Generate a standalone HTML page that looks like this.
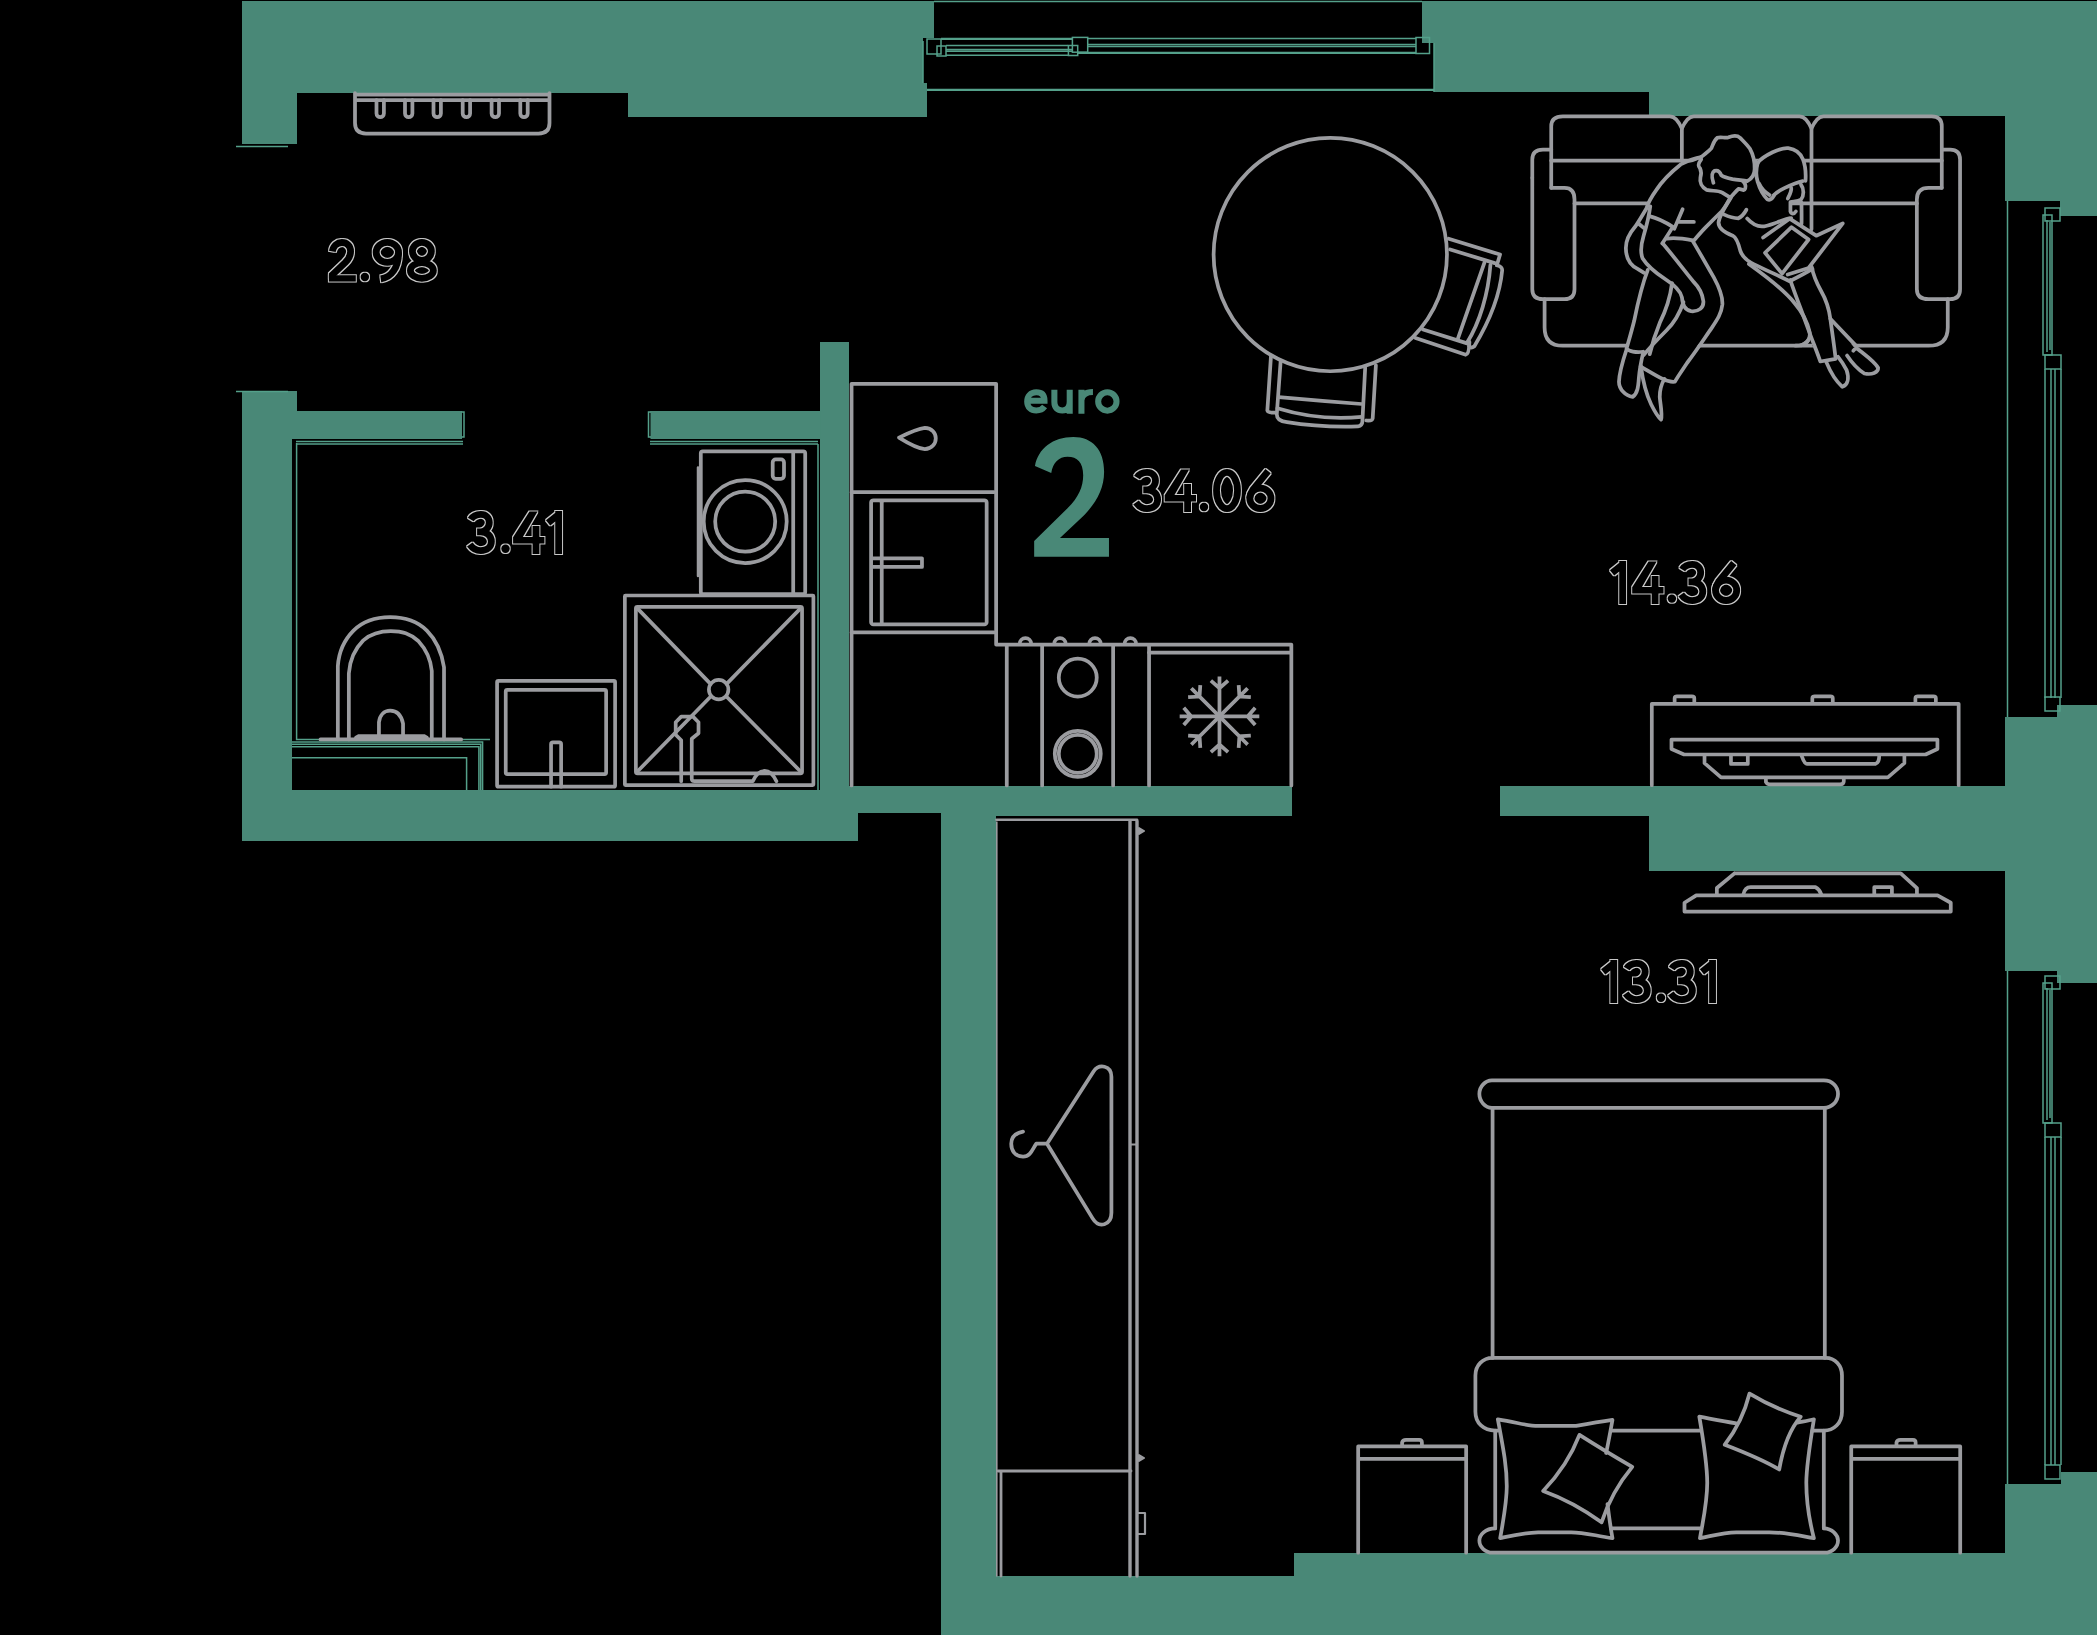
<!DOCTYPE html>
<html><head><meta charset="utf-8">
<style>
html,body{margin:0;padding:0;background:#000;width:2097px;height:1635px;overflow:hidden}
svg{display:block}
.w{fill:#498877}
.g{fill:none;stroke:#9b9ca0;stroke-width:3.75;stroke-linejoin:round;stroke-linecap:round}
.wl{fill:none;stroke:#54a08a;stroke-width:1.5}
.num{font-family:"Liberation Sans",sans-serif;font-size:60px;fill:#000;stroke:#c8c8c8;stroke-width:1.1}
.teal{font-family:"Liberation Sans",sans-serif;font-weight:bold;fill:#4a8978}
</style></head>
<body>
<svg width="2097" height="1635" viewBox="0 0 2097 1635">
<defs>
<filter id="ol" x="-10%" y="-20%" width="120%" height="140%">
<feMorphology in="SourceAlpha" operator="dilate" radius="1" result="d"/>
<feComposite in="d" in2="SourceAlpha" operator="out" result="o"/>
<feFlood flood-color="#c8c8c8"/>
<feComposite in2="o" operator="in"/>
</filter>
</defs>
<rect x="0" y="0" width="2097" height="1635" fill="#000"/>
<!-- WALLS -->
<g class="w">
<path d="M242 1H934V38H923V83H927V117H628V93H297V144H242Z"/>
<path d="M1422 1H2097V216H2060V201H2005V116H1649V92H1434V43H1422Z"/>
<path d="M242 391H297V411H462V439H292V790H820V342H849V786H1292V816H996V1576H1294V1553H2005V1484H2061V1472H2097V1635H941V813H858V841H242Z"/>
<rect x="650.5" y="411" width="170" height="28"/>
<path d="M1500 786H2005V717H2057V705H2097V983H2057V971H2005V871H1649V816H1500Z"/>
</g>
<!-- FURNITURE (placeholder) -->
<g id="furn">
<!-- top window -->
<g class="wl">
<path d="M934 1.5H1422"/>
<path d="M927 89.8H1434" stroke-width="2.2"/>
<path d="M941 38.8H1072" stroke-width="2.2"/>
<path d="M946 45.5H1068M946 49.4H1072M946 51.2H1072M946 55.3H1068"/>
<path d="M1088 38.4H1416M1088 44.4H1416M1088 46.5H1416"/>
<path d="M1077 52.9H1416" stroke-width="2.2"/>
<rect x="1072.4" y="37.4" width="15.3" height="14.8"/>
<rect x="1068.4" y="45.5" width="9.3" height="10"/>
<rect x="927" y="39" width="14" height="15"/>
<rect x="937" y="46" width="9" height="10"/>
<rect x="1416" y="37.5" width="13.5" height="16"/>
<path d="M923 41V83M1434 43V92"/>
</g>
<!-- right windows -->
<g class="wl">
<path d="M2007.5 201V717"/>
<rect x="2045" y="208" width="15" height="13"/>
<rect x="2043" y="215" width="9" height="140"/>
<path d="M2047 220V352M2050 222V350"/>
<rect x="2045" y="355" width="16" height="14"/>
<path d="M2045 369V698M2061 369V698M2051 369V698M2055 369V698"/>
<rect x="2045" y="697" width="15" height="14"/>
<path d="M2007.5 971V1484"/>
<rect x="2045" y="976" width="15" height="13"/>
<rect x="2043" y="983" width="9" height="140"/>
<path d="M2047 988V1120M2050 990V1118"/>
<rect x="2045" y="1123" width="16" height="14"/>
<path d="M2045 1137V1465M2061 1137V1465M2051 1137V1465M2055 1137V1465"/>
<rect x="2045" y="1465" width="15" height="14"/>
</g>
<!-- radiator -->
<g class="g">
<path d="M355 93V123Q355 133.5 366 133.5H538.5Q549.5 133.5 549.5 123V93"/>
<path d="M356 100H548.5M357 94.5H548"/>
<path d="M376.5 100V113.5A3.7 3.7 0 0 0 383.9 113.5V100M405 100V113.5A3.7 3.7 0 0 0 412.4 113.5V100M433.5 100V113.5A3.7 3.7 0 0 0 440.9 113.5V100M462.7 100V113.5A3.7 3.7 0 0 0 470.1 113.5V100M491.6 100V113.5A3.7 3.7 0 0 0 499 113.5V100M520.3 100V113.5A3.7 3.7 0 0 0 527.7 113.5V100"/>
</g>
<!-- hall door thin lines -->
<g class="wl">
<path d="M236 146.5H288M236 391.5H288"/>
<path d="M296.6 443V739.4H490"/>
<path d="M292 741.9H482.6V790M292 744.3H480.7V790M292 746.8H478.9V790M292 757.8H466.6V790"/>
<path d="M461.5 412H464V437H461.5M651 412H648.5V437H651"/>
<path d="M296 441.5H463M296 444H463M650 441.5H818M650 444H818M818 444V790"/>
</g>
<!-- toilet -->
<g class="g" transform="translate(285,600) scale(0.12232)" style="stroke-width:30.60">
<path d="M432 1140V540C440 420 490 320 560 250C640 170 740 140 860 140C980 140 1080 170 1160 250C1230 320 1280 420 1300 550V1140"/>
<path d="M522 1140V600C530 480 580 390 640 330C710 270 780 255 865 255C960 255 1020 275 1090 335C1150 400 1190 470 1200 580V1140"/>
<path d="M290 1140H1440"/>
<path d="M580 1125L605 1112H1135L1160 1125Z" style="fill:#9c9c9f"/>
<path d="M768 1110V1000C775 940 810 905 860 905C915 905 950 940 965 1010V1110"/>
</g>
<!-- sink + shower -->
<g class="g" transform="translate(490,590) scale(0.157369)" style="stroke-width:23.54">
<rect x="45" y="578" width="750" height="672" rx="8"/>
<rect x="100" y="635" width="638" height="535" rx="10"/>
<path d="M388 1250V980Q388 968 400 968H440Q452 968 452 980V1250"/>
<rect x="857" y="35" width="1198" height="1205" rx="4"/>
<rect x="927" y="107" width="1056" height="1058" rx="10"/>
<path d="M935 115L1395 590M1510 685L1975 1155M1975 115L1510 590M1395 685L935 1155"/>
<circle cx="1453" cy="633" r="62"/>
<path d="M1215 1215V955L1180 920V840L1215 805H1290L1325 840V910L1282 945V1200Q1282 1215 1300 1215H1670Q1700 1150 1745 1150Q1790 1150 1820 1215"/>
</g>
<!-- washing machine -->
<g class="g">
<rect x="700.8" y="451.3" width="104.4" height="142.7" rx="2"/>
<path d="M793.2 452V593"/>
<rect x="772.7" y="459.4" width="11.3" height="19.4" rx="3"/>
<path d="M698 467.5V576" style="stroke-width:2.5"/>
<circle cx="745.2" cy="521.6" r="41.5"/>
<circle cx="745.2" cy="521.6" r="30"/>
</g>
<!-- kitchen -->
<g class="g" transform="translate(830,360) scale(0.287439)" style="stroke-width:13.05">
<path d="M75 1480V83H578V990H1605V1480"/>
<path d="M75 460H570M75 948H570"/>
<rect x="143" y="488" width="402" height="432" rx="8"/>
<path d="M180 495V915"/>
<path d="M150 690H320V720H150" />
<path d="M240 270C280 250 310 238 330 236C355 236 368 255 368 272C368 290 355 310 330 310C305 308 280 295 240 270Z"/>
<path d="M615 995V1480M738 995V1480M985 995V1480M1110 995V1480"/>
<path d="M1110 1018H1600"/>
<path d="M660 988A20 20 0 0 1 700 988M780 988A20 20 0 0 1 820 988M902 988A20 20 0 0 1 942 988M1025 988A20 20 0 0 1 1065 988"/>
<circle cx="862" cy="1105" r="66"/>
<circle cx="862" cy="1370" r="80"/>
<circle cx="862" cy="1370" r="66"/>
<g transform="translate(1355,1240)">
<path d="M0 0V-132M-25 -120L0 -98L25 -120" style="stroke-linecap:square;stroke-linejoin:miter"/>
<g transform="rotate(45)"><path d="M0 0V-132M-25 -120L0 -98L25 -120" style="stroke-linecap:square;stroke-linejoin:miter"/></g>
<g transform="rotate(90)"><path d="M0 0V-132M-25 -120L0 -98L25 -120" style="stroke-linecap:square;stroke-linejoin:miter"/></g>
<g transform="rotate(135)"><path d="M0 0V-132M-25 -120L0 -98L25 -120" style="stroke-linecap:square;stroke-linejoin:miter"/></g>
<g transform="rotate(180)"><path d="M0 0V-132M-25 -120L0 -98L25 -120" style="stroke-linecap:square;stroke-linejoin:miter"/></g>
<g transform="rotate(225)"><path d="M0 0V-132M-25 -120L0 -98L25 -120" style="stroke-linecap:square;stroke-linejoin:miter"/></g>
<g transform="rotate(270)"><path d="M0 0V-132M-25 -120L0 -98L25 -120" style="stroke-linecap:square;stroke-linejoin:miter"/></g>
<g transform="rotate(315)"><path d="M0 0V-132M-25 -120L0 -98L25 -120" style="stroke-linecap:square;stroke-linejoin:miter"/></g>
</g>
</g>
<!-- table + chairs -->
<g class="g" transform="translate(1180,100) scale(0.214087)" style="stroke-width:17.44">
<circle cx="702" cy="722" r="545"/>
<path d="M425 1195L408 1450Q410 1462 445 1460"/>
<path d="M470 1222L452 1468Q452 1500 500 1505Q650 1530 830 1525Q852 1520 852 1500L865 1250"/>
<path d="M915 1240L900 1488Q898 1500 870 1497"/>
<path d="M462 1388Q650 1405 848 1420"/>
<path d="M455 1440Q650 1500 850 1480"/>
<path d="M1255 648L1495 722L1480 772"/>
<path d="M1262 698L1470 762"/>
<path d="M1480 772Q1505 778 1505 795Q1490 960 1375 1150Q1360 1162 1350 1150"/>
<path d="M1450 770C1440 905 1400 1040 1340 1135"/>
<path d="M1422 760L1298 1115"/>
<path d="M1100 1112L1335 1190Q1350 1188 1352 1130"/>
<path d="M1135 1072L1345 1138"/>
</g>
<!-- sofa -->
<g class="g" transform="translate(1400,0) scale(0.332381)" style="stroke-width:11.24">
<path d="M455 450H430Q398 450 398 480V535"/>
<path d="M455 450V380Q455 350 490 350H812Q832 350 848 387Q864 350 884 350H1202Q1222 350 1238 387Q1254 350 1274 350H1600Q1630 350 1630 380V565"/>
<path d="M455 450V565"/>
<path d="M455 483H1630"/>
<path d="M848 387V483M1238 387V690"/>
<path d="M398 535V870Q398 900 430 900H495Q525 900 525 870V600Q525 565 495 565H455"/>
<path d="M1630 450H1655Q1685 450 1685 480V870Q1685 900 1655 900H1590Q1555 900 1555 870V600Q1555 565 1590 565H1630"/>
<path d="M525 612H1555"/>
<path d="M435 900V985Q435 1040 490 1040H1590Q1648 1040 1648 985V900"/>
<path d="M1238 870V985Q1238 1040 1190 1040"/>
</g>
<!-- people -->
<g transform="translate(1600,120) scale(0.189645)" fill="#000" stroke="none">
<path d="M530 205L600 140L630 92L740 88L800 170L822 300L740 390L700 420L640 510L490 640L560 770L645 950L630 1030L520 1180L400 1380L335 1372L318 1470L322 1580L300 1585L230 1420L172 1460L100 1400L140 1210L250 790L140 720L140 620L250 440L380 265Z"/>
<path d="M830 212L960 150L1075 210L1088 330L1050 420L1000 445L1000 510L1140 610L1280 545L1110 780L1210 1040L1340 1200L1470 1310L1462 1335L1380 1300L1300 1255L1310 1390L1275 1410L1190 1280L1160 1282L1040 1000L800 760L735 690L720 620L625 560L690 410L820 330Z"/>
</g>
<g class="g" transform="translate(1600,120) scale(0.189645)" style="stroke-width:19.80">
<path d="M252 790C225 860 200 960 180 1060C165 1120 150 1170 140 1205C150 1220 190 1228 228 1222"/>
<path d="M140 1210C120 1270 102 1330 100 1380C100 1420 135 1455 172 1460C200 1440 202 1400 205 1360C208 1320 215 1280 228 1225"/>
<path d="M380 860C370 940 345 1010 315 1070C290 1130 275 1180 262 1235"/>
<path d="M215 1295C225 1370 240 1440 270 1500C290 1540 310 1570 322 1580C330 1550 318 1500 315 1460C315 1420 325 1390 340 1365"/>
<path d="M490 640C520 690 560 760 600 830C630 885 648 940 645 975C640 1020 620 1050 590 1095C555 1145 510 1215 460 1280C430 1325 405 1360 395 1380C380 1382 350 1375 330 1365C290 1345 250 1320 215 1300"/>
<path d="M265 455C258 510 245 560 230 610C215 660 212 700 225 730C250 770 300 810 345 840C400 875 425 905 432 935C436 975 445 1000 480 1008C520 1012 548 990 545 955C540 915 520 880 495 855C460 815 410 745 330 650"/>
<path d="M440 960C420 1020 390 1070 350 1110C310 1150 270 1190 230 1240"/>
<path d="M690 410C660 460 630 500 625 540C625 570 650 590 700 610C720 620 730 650 740 690C750 720 770 740 810 760C870 790 940 820 1000 850C1040 830 1080 810 1120 785"/>
<path d="M860 620L1000 520L1140 610L1280 545L1100 780L990 815"/>
<path d="M870 700L1010 565L1100 630L960 810Z"/>
</g>
<g class="g" transform="translate(1610,260) scale(0.133529)" style="stroke-width:28"><path d="M1040 30C1180 130 1300 220 1380 320C1440 390 1480 470 1495 540C1502 585 1480 625 1430 640"/>
<path d="M1350 150C1395 280 1450 420 1500 560C1530 640 1555 700 1575 760L1690 740C1680 650 1665 550 1650 440C1640 360 1620 300 1580 230C1540 160 1520 100 1510 50"/>
<path d="M1650 440L1845 645"/>
<path d="M1620 765C1655 850 1695 910 1740 950C1782 935 1792 885 1772 825C1752 785 1730 752 1708 725"/>
<path d="M1775 715C1805 760 1850 815 1905 850C1962 862 2010 842 2008 808C1990 770 1925 722 1862 672C1845 658 1832 665 1822 680"/>
</g>
<g class="g" transform="translate(1620,130) scale(0.097847)" style="stroke-width:38.3">
<path d="M828 278C865 245 905 222 935 185C950 150 958 110 995 80C1035 62 1070 90 1110 75C1150 58 1200 55 1228 80C1262 115 1300 150 1330 195C1360 250 1378 330 1376 400C1375 460 1345 500 1300 522C1255 515 1200 510 1150 502C1100 492 1060 482 1035 462C1020 425 995 408 965 418C935 435 935 480 955 540"/>
<path d="M830 300C800 340 792 365 818 392C832 425 830 460 822 485C812 535 835 585 885 612C945 628 995 612 1045 640C1080 662 1110 680 1128 690C1160 660 1188 618 1212 602C1240 600 1268 635 1280 598C1290 570 1275 535 1255 522"/>
<path d="M1128 690C1100 740 1075 790 1040 830C990 880 930 940 880 990C830 1040 790 1090 755 1130"/>
<path d="M828 278C760 288 700 312 620 352C520 432 430 522 372 612C322 682 285 752 270 802C222 882 182 952 152 992C85 1070 60 1150 60 1205C60 1300 100 1380 180 1420L242 1458"/>
<path d="M192 958L242 1000"/>
<path d="M300 880C380 900 470 945 540 990C510 1040 470 1100 432 1160"/>
<path d="M480 1110C560 1098 650 1110 745 1128"/>
<path d="M640 810C610 880 580 950 555 1010M605 940H755"/>
</g>
<g class="g" transform="translate(1710,130) scale(0.097847)" style="stroke-width:38.3">
<path d="M488 335C520 292 570 262 640 228C710 196 760 180 800 185C870 195 925 235 950 300C970 350 982 430 976 520"/>
<path d="M948 522C900 532 835 558 765 592C722 612 682 640 652 665"/>
<path d="M488 335C470 400 468 470 488 532C508 600 538 660 585 708C615 722 638 700 655 668"/>
<path d="M500 545C525 600 565 640 610 665"/>
<path d="M830 592C835 625 815 660 795 700"/>
<path d="M930 560C962 600 962 672 930 712C902 730 862 730 822 738V832C832 862 860 862 878 832"/>
<path d="M935 742C935 820 938 900 935 960"/>
<path d="M140 862C182 882 240 902 290 902C332 882 352 852 372 815"/>
<path d="M380 905C420 950 470 985 530 985C590 985 630 962 690 942C740 922 790 902 830 900"/>
</g>
<!-- TV living -->
<g class="g" transform="translate(1640,690) scale(0.157369)" style="stroke-width:23.54">
<path d="M75 605V88H2025V605"/>
<path d="M220 80V52Q220 40 235 40H330Q345 40 345 52V80M1095 80V52Q1095 40 1110 40H1210Q1225 40 1225 52V80M1750 80V52Q1750 40 1765 40H1865Q1880 40 1880 52V80"/>
<path d="M200 315H1890V375L1815 410H280L200 375Z"/>
<path d="M410 420V465L515 555H1575L1680 465V420"/>
<path d="M578 420V470H685V420"/>
<path d="M1028 420Q1045 470 1062 470H1495Q1520 462 1520 420"/>
<path d="M800 560V585Q810 600 825 600H1270Q1295 600 1295 580V560"/>
</g>
<!-- TV bedroom -->
<g class="g" transform="translate(1480,660) scale(0.294229)" style="stroke-width:12.73">
<path d="M865 725L805 775V797M865 725H1430L1485 775V797"/>
<path d="M895 797Q900 772 920 772H1140Q1155 780 1160 797"/>
<path d="M1340 797V772H1400V797"/>
<path d="M695 825L735 800H1555L1600 825V855H695Z"/>
</g>
<!-- wardrobe -->
<g class="g">
<path d="M996.5 819.8H1137" style="stroke-width:2.6"/>
<path d="M996.8 822V1576" style="stroke-width:1.6"/>
<path d="M1130 821V1576M1137 821V1576" style="stroke-width:3.4"/>
<path d="M998 1471H1131M1001 1471V1576" style="stroke-width:2.8"/>
<path d="M1130 1144.5H1137" style="stroke-width:2"/>
<path d="M1139 828L1144 831L1139 834ZM1139 1455L1144 1458L1139 1461Z" style="stroke-width:2;fill:#9b9ca0"/>
<path d="M1138 1513H1145V1534H1138" style="stroke-width:2.2"/>
</g>
<g class="g" transform="translate(920,1050) scale(0.357782)" style="stroke-width:10.49">
<path d="M355 262L485 60C500 38 535 42 535 75V455C535 490 500 500 482 470L355 262H325C315 275 310 298 288 298C265 298 255 280 255 262C255 242 268 232 288 228"/>
</g>
<!-- bedroom -->
<g class="g" transform="translate(1340,1060) scale(0.330251)" style="stroke-width:11.34">
<path d="M460 62H1465C1490 62 1508 80 1508 103C1508 125 1490 145 1465 145H460C440 145 422 125 422 103C422 80 440 62 460 62Z"/>
<path d="M462 145V902M1468 145V902"/>
<path d="M460 902H1470C1500 902 1520 925 1520 955V1065C1520 1100 1495 1122 1465 1122H1430M462 902C432 902 410 925 410 955V1065C410 1100 435 1122 470 1122H478"/>
<path d="M470 1122V1418M1465 1122V1418M820 1122H1090M820 1418H1090"/>
<path d="M470 1418C440 1418 422 1438 422 1455C422 1475 440 1492 462 1492H1468C1490 1492 1508 1475 1508 1455C1508 1438 1490 1418 1465 1418"/>
<path d="M478 1088C540 1098 565 1108 600 1108H715C760 1100 790 1095 825 1090C818 1130 812 1160 806 1190M810 1345C815 1385 820 1420 825 1448C770 1440 740 1430 700 1430H600C550 1432 520 1440 485 1448C495 1390 505 1340 505 1290C505 1230 495 1180 478 1088"/>
<path d="M725 1135C780 1170 830 1200 885 1232C845 1280 815 1330 792 1400C740 1362 690 1332 615 1305C660 1258 700 1200 725 1135Z"/>
<path d="M1200 1100C1160 1095 1130 1088 1088 1080C1105 1180 1112 1230 1112 1280C1112 1340 1100 1390 1090 1448C1130 1440 1160 1430 1200 1430H1300C1350 1430 1390 1440 1435 1448C1420 1390 1412 1340 1412 1280C1412 1230 1420 1180 1435 1088C1420 1092 1400 1095 1385 1098"/>
<path d="M1240 1010C1290 1040 1330 1060 1395 1080C1360 1120 1342 1170 1330 1240C1280 1210 1230 1190 1165 1165C1200 1120 1225 1070 1240 1010Z"/>
<path d="M55 1492V1170H382V1492M60 1208H378"/>
<path d="M188 1168V1158Q190 1150 200 1150H240Q248 1150 248 1158V1168"/>
<path d="M1548 1492V1170H1878V1492M1553 1208H1873"/>
<path d="M1685 1168V1158Q1687 1150 1697 1150H1735Q1743 1150 1743 1158V1168"/>
</g>
<!-- labels -->
<g transform="translate(1010,380) scale(0.116171)">
<path fill="#498877" d="M215 740C240 590 370 490 545 490C710 490 810 600 810 790C810 960 720 1090 590 1210L430 1360H852V1522H208V1385L495 1105C590 1010 630 920 630 820C630 710 580 660 495 660C420 660 370 710 355 800Z"/>
<g fill="none" stroke="#498877" stroke-width="52">
<path d="M160 178H297C297 125 268 106 226 106C176 106 148 142 148 185C148 234 180 262 226 262C258 262 282 250 298 228"/>
<path d="M382 85V190C382 238 408 262 450 262C492 262 514 238 514 190V85M514 85V290"/>
<path d="M615 290V85M615 175C620 120 660 104 714 104"/>
<circle cx="838" cy="185" r="79"/>
</g>
</g>
<g filter="url(#ol)"><g fill="none" stroke="#000" stroke-width="6.8" stroke-linecap="butt" stroke-linejoin="miter"><g transform="translate(328.90,238.90)"><path d="M3.4 12.5C4.5 6.5 8.5 3.6 13 3.6C18 3.6 21.7 7.2 21.7 12.5C21.7 17 19.5 20.5 16.5 23.5L3.4 36V39.5"/><path d="M0 39.5H26.9" style="stroke-width:6.3"/></g><g transform="translate(372.75,238.90)"><ellipse cx="14.6" cy="13.45" rx="11.2" ry="10"/><path d="M25.8 13.6C25.8 29 18.5 38.5 8 40"/></g><g transform="translate(407.00,238.90)"><ellipse cx="14.9" cy="12.4" rx="9.5" ry="9"/><ellipse cx="14.9" cy="31.6" rx="11.5" ry="7.8"/></g><circle cx="364.85" cy="277.00" r="4.2" fill="#000" stroke="none"/></g></g>
<g filter="url(#ol)"><g fill="none" stroke="#000" stroke-width="6.8" stroke-linecap="butt" stroke-linejoin="miter"><g transform="translate(1134.00,469.00)"><path d="M3 8.5C5.5 4.5 9 3.4 13 3.4C18.5 3.4 21.5 7 21.5 11.6C21.5 16.5 17.5 20.8 13 20.8H9.3M13 20.8C19 20.8 23.6 25 23.6 30.6C23.6 36.2 18.8 39.6 13 39.6C8 39.6 4.5 37 2 33.5"/></g><g transform="translate(1164.70,469.00)"><path d="M16.4 0.6H24.4L9.6 26.2H0ZM0 26.1H31.3V32.6H0ZM19.5 15H26.3V43H19.5Z" fill="#000" stroke="none"/></g><g transform="translate(1213.10,469.00)"><ellipse cx="13.9" cy="21.5" rx="10.5" ry="18.1"/></g><g transform="translate(1246.30,469.00)"><ellipse cx="14.1" cy="29.3" rx="10.6" ry="10.2"/><path d="M21.8 2.2L6.5 20.8C4.8 23.3 3.5 26 3.5 29.3"/></g><circle cx="1204.00" cy="507.00" r="4.2" fill="#000" stroke="none"/></g></g>
<g filter="url(#ol)"><g fill="none" stroke="#000" stroke-width="6.8" stroke-linecap="butt" stroke-linejoin="miter"><g transform="translate(1609.90,561.00)"><path d="M12.75 0V43M12.2 3.8L2.2 11.8"/></g><g transform="translate(1632.20,561.00)"><path d="M16.4 0.6H24.4L9.6 26.2H0ZM0 26.1H31.3V32.6H0ZM19.5 15H26.3V43H19.5Z" fill="#000" stroke="none"/></g><g transform="translate(1679.20,561.00)"><path d="M3 8.5C5.5 4.5 9 3.4 13 3.4C18.5 3.4 21.5 7 21.5 11.6C21.5 16.5 17.5 20.8 13 20.8H9.3M13 20.8C19 20.8 23.6 25 23.6 30.6C23.6 36.2 18.8 39.6 13 39.6C8 39.6 4.5 37 2 33.5"/></g><g transform="translate(1712.00,561.00)"><ellipse cx="14.1" cy="29.3" rx="10.6" ry="10.2"/><path d="M21.8 2.2L6.5 20.8C4.8 23.3 3.5 26 3.5 29.3"/></g><circle cx="1671.90" cy="598.60" r="4.2" fill="#000" stroke="none"/></g></g>
<g filter="url(#ol)"><g fill="none" stroke="#000" stroke-width="6.8" stroke-linecap="butt" stroke-linejoin="miter"><g transform="translate(467.80,511.00)"><path d="M3 8.5C5.5 4.5 9 3.4 13 3.4C18.5 3.4 21.5 7 21.5 11.6C21.5 16.5 17.5 20.8 13 20.8H9.3M13 20.8C19 20.8 23.6 25 23.6 30.6C23.6 36.2 18.8 39.6 13 39.6C8 39.6 4.5 37 2 33.5"/></g><g transform="translate(513.10,511.00)"><path d="M16.4 0.6H24.4L9.6 26.2H0ZM0 26.1H31.3V32.6H0ZM19.5 15H26.3V43H19.5Z" fill="#000" stroke="none"/></g><g transform="translate(545.90,511.00)"><path d="M12.75 0V43M12.2 3.8L2.2 11.8"/></g><circle cx="505.50" cy="548.80" r="4.2" fill="#000" stroke="none"/></g></g>
<g filter="url(#ol)"><g fill="none" stroke="#000" stroke-width="6.8" stroke-linecap="butt" stroke-linejoin="miter"><g transform="translate(1601.00,960.00)"><path d="M12.75 0V43M12.2 3.8L2.2 11.8"/></g><g transform="translate(1623.70,960.00)"><path d="M3 8.5C5.5 4.5 9 3.4 13 3.4C18.5 3.4 21.5 7 21.5 11.6C21.5 16.5 17.5 20.8 13 20.8H9.3M13 20.8C19 20.8 23.6 25 23.6 30.6C23.6 36.2 18.8 39.6 13 39.6C8 39.6 4.5 37 2 33.5"/></g><g transform="translate(1668.80,960.00)"><path d="M3 8.5C5.5 4.5 9 3.4 13 3.4C18.5 3.4 21.5 7 21.5 11.6C21.5 16.5 17.5 20.8 13 20.8H9.3M13 20.8C19 20.8 23.6 25 23.6 30.6C23.6 36.2 18.8 39.6 13 39.6C8 39.6 4.5 37 2 33.5"/></g><g transform="translate(1699.80,960.00)"><path d="M12.75 0V43M12.2 3.8L2.2 11.8"/></g><circle cx="1661.00" cy="997.70" r="4.2" fill="#000" stroke="none"/></g></g>
</g>
</svg>
</body></html>
